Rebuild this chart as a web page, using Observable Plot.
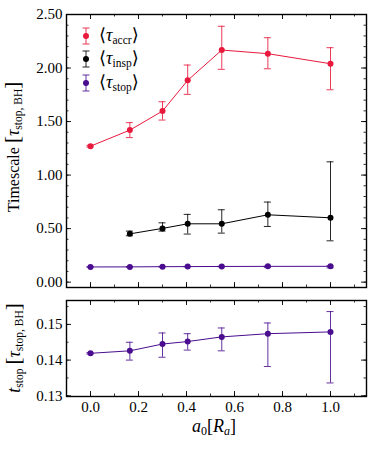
<!DOCTYPE html>
<html>
<head>
<meta charset="utf-8">
<script src="https://cdn.jsdelivr.net/npm/d3@7"></script>
<script src="https://cdn.jsdelivr.net/npm/@observablehq/plot@0.6"></script>
<style>
  html, body { margin: 0; padding: 0; background: #fff; }
  #chart svg { display: block; }
  #chart svg text { font-family: 'Liberation Serif', 'DejaVu Serif', serif; }
</style>
</head>
<body>
<div id="chart"></div>
<script>
// ---- data ----
const a0 = [0.0, 0.164, 0.300, 0.405, 0.547, 0.739, 1.0];

const accr   = [1.270, 1.420, 1.598, 1.885, 2.168, 2.134, 2.040];
const accrLo = [1.262, 1.350, 1.514, 1.754, 1.988, 1.993, 1.797];
const accrHi = [1.278, 1.490, 1.685, 2.028, 2.390, 2.283, 2.190];

const inspX  = [0.164, 0.300, 0.405, 0.547, 0.739, 1.0];
const insp   = [0.451, 0.502, 0.545, 0.545, 0.629, 0.601];
const inspLo = [0.433, 0.477, 0.449, 0.458, 0.520, 0.386];
const inspHi = [0.477, 0.554, 0.633, 0.676, 0.748, 1.124];

const stop   = [0.1419, 0.1426, 0.1445, 0.1452, 0.1465, 0.1474, 0.1479];
const stopLo = [0.1417, 0.1400, 0.1408, 0.1428, 0.1426, 0.1382, 0.1336];
const stopHi = [0.1421, 0.1450, 0.1476, 0.1474, 0.1490, 0.1504, 0.1536];

const topMajorY = [0, 0.5, 1.0, 1.5, 2.0, 2.5];
const topMinorY = d3.range(0, 25).map(i => +(i * 0.1).toFixed(2));
const majorX = [0, 0.2, 0.4, 0.6, 0.8, 1.0];
const minorX = [-0.1, 0, 0.1, 0.2, 0.3, 0.4, 0.5, 0.6, 0.7, 0.8, 0.9, 1.0, 1.1];
const botMajorY = [0.13, 0.14, 0.15];
const botMinorY = [0.13, 0.135, 0.14, 0.145, 0.15, 0.155];

const colors = { accr: "#e8193c", insp: "#000000", stop: "#4a0d8f" };

// ---- build tables ----
const accrData = a0.map((x, i) => ({x, y: accr[i], lo: accrLo[i], hi: accrHi[i]}));
const inspData = inspX.map((x, i) => ({x, y: insp[i], lo: inspLo[i], hi: inspHi[i]}));
const stopData = a0.map((x, i) => ({x, y: stop[i], lo: stopLo[i], hi: stopHi[i]}));

const W = 374;
const ML = 66, MR = 8;
const IW = W - ML - MR;

function series(data, color) {
  return [
    Plot.line(data, {x: "x", y: "y", stroke: color, strokeWidth: 1}),
    Plot.ruleX(data, {x: "x", y1: "lo", y2: "hi", stroke: color, strokeWidth: 1, strokeOpacity: 0.85}),
    Plot.ruleY(data, {y: "lo", x1: "x", x2: "x", insetLeft: -3.5, insetRight: -3.5, stroke: color, strokeWidth: 1, strokeOpacity: 0.85}),
    Plot.ruleY(data, {y: "hi", x1: "x", x2: "x", insetLeft: -3.5, insetRight: -3.5, stroke: color, strokeWidth: 1, strokeOpacity: 0.85}),
    Plot.dot(data, {x: "x", y: "y", r: 3, fill: color, stroke: "none"})
  ];
}

function innerTicks(IH, majY, minY, majX, minX) {
  const big = 5, small = 2.5;
  return [
    Plot.tickY(majY, {y: d => d, insetRight: IW - big, strokeWidth: 0.9}),
    Plot.tickY(majY, {y: d => d, insetLeft: IW - big, strokeWidth: 0.9}),
    Plot.tickY(minY, {y: d => d, insetRight: IW - small, strokeWidth: 0.8}),
    Plot.tickY(minY, {y: d => d, insetLeft: IW - small, strokeWidth: 0.8}),
    Plot.tickX(majX, {x: d => d, insetTop: IH - big, strokeWidth: 0.9}),
    Plot.tickX(majX, {x: d => d, insetBottom: IH - big, strokeWidth: 0.9}),
    Plot.tickX(minX, {x: d => d, insetTop: IH - small, strokeWidth: 0.8}),
    Plot.tickX(minX, {x: d => d, insetBottom: IH - small, strokeWidth: 0.8})
  ];
}

const font = "'Liberation Serif', 'DejaVu Serif', serif";

// ---- top panel ----
const H1 = 290, MT1 = 14, MB1 = 3;
const topPlot = Plot.plot({
  width: W, height: H1,
  marginLeft: ML, marginRight: MR, marginTop: MT1, marginBottom: MB1,
  style: {fontFamily: font, fontSize: "15px", color: "#000", background: "#fff"},
  x: {domain: [-0.1, 1.15]},
  y: {domain: [-0.05, 2.5]},
  marks: [
    Plot.axisX({ticks: [], label: null}),
    Plot.axisY(topMajorY, {tickSize: 0, tickPadding: 4, tickFormat: d3.format(".2f"), label: null}),
    ...innerTicks(H1 - MT1 - MB1, topMajorY, topMinorY, majorX, minorX),
    ...series(accrData, colors.accr),
    ...series(inspData, colors.insp),
    ...series(stopData, colors.stop),
    Plot.frame({stroke: "#000", strokeWidth: 1.4})
  ]
});

// ---- bottom panel ----
const H2 = 159, MT2 = 10, MB2 = 53;
const bottomPlot = Plot.plot({
  width: W, height: H2,
  marginLeft: ML, marginRight: MR, marginTop: MT2, marginBottom: MB2,
  style: {fontFamily: font, fontSize: "15px", color: "#000", background: "#fff"},
  x: {domain: [-0.1, 1.15]},
  y: {domain: [0.1298, 0.1567]},
  marks: [
    Plot.axisX(majorX, {tickSize: 0, tickPadding: 5, tickFormat: d3.format(".1f"), label: null}),
    Plot.axisY(botMajorY, {tickSize: 0, tickPadding: 4, tickFormat: d3.format(".2f"), label: null}),
    ...innerTicks(H2 - MT2 - MB2, botMajorY, botMinorY, majorX, minorX),
    ...series(stopData, colors.stop),
    Plot.frame({stroke: "#000", strokeWidth: 1.4})
  ]
});

const chart = document.getElementById("chart");
chart.appendChild(topPlot);
chart.appendChild(bottomPlot);
for (const s of [topPlot, bottomPlot]) d3.select(s).attr("font-family", font);

// ---- labels with sub-scripts ----
function addLabel(svg, x, y, rotate, parts, size) {
  const t = d3.select(svg).append("text")
    .attr("transform", `translate(${x},${y})` + (rotate ? " rotate(-90)" : ""))
    .attr("text-anchor", "middle")
    .attr("font-size", size)
    .attr("fill", "#000");
  for (const p of parts) {
    const s = t.append("tspan").text(p.t);
    if (p.size) s.attr("font-size", p.size);
    if (p.italic) s.attr("font-style", "italic");
    if (p.dy) s.attr("dy", p.dy);
  }
  return t;
}

addLabel(topPlot, 19, 147, true, [
  {t: "Timescale "},
  {t: "[", size: 21},
  {t: "τ", italic: true, size: 18},
  {t: "stop, BH", size: 11.5, dy: 3},
  {t: "]", size: 21, dy: -3}
], 16);

addLabel(bottomPlot, 20, 58, true, [
  {t: "t", italic: true, size: 18},
  {t: "stop", size: 11.5, dy: 3},
  {t: " ", dy: -3},
  {t: "[", size: 21},
  {t: "τ", italic: true, size: 18},
  {t: "stop, BH", size: 11.5, dy: 3},
  {t: "]", size: 21, dy: -3}
], 16);

addLabel(bottomPlot, 214, 142, false, [
  {t: "a", italic: true},
  {t: "0", size: 12, dy: 3},
  {t: "[", dy: -3},
  {t: "R", italic: true},
  {t: "a", italic: true, size: 12, dy: 3},
  {t: "]", dy: -3}
], 18);

// ---- legend ----
const legendItems = [
  {key: "accr", color: colors.accr, y: 36},
  {key: "insp", color: colors.insp, y: 59},
  {key: "stop", color: colors.stop, y: 83}
];
const lg = d3.select(topPlot).append("g");
for (const it of legendItems) {
  const g = lg.append("g").attr("transform", `translate(86,${it.y})`);
  g.append("line").attr("x1", 0).attr("x2", 0).attr("y1", -8).attr("y2", 8).attr("stroke", it.color).attr("stroke-opacity", 0.85);
  g.append("line").attr("x1", -3.5).attr("x2", 3.5).attr("y1", -8).attr("y2", -8).attr("stroke", it.color).attr("stroke-opacity", 0.85);
  g.append("line").attr("x1", -3.5).attr("x2", 3.5).attr("y1", 8).attr("y2", 8).attr("stroke", it.color).attr("stroke-opacity", 0.85);
  g.append("circle").attr("r", 3).attr("fill", it.color);
  const t = g.append("text").attr("x", 13).attr("y", 5).attr("text-anchor", "start").attr("font-size", 16).attr("fill", "#000");
  t.append("tspan").text("⟨").attr("font-family", "'DejaVu Serif', serif").attr("font-size", 18);
  t.append("tspan").text("τ").attr("font-style", "italic").attr("font-size", 18);
  t.append("tspan").text(it.key).attr("font-size", 11.5).attr("dy", 3);
  t.append("tspan").text("⟩").attr("font-family", "'DejaVu Serif', serif").attr("font-size", 18).attr("dy", -3);
}
</script>
</body>
</html>
